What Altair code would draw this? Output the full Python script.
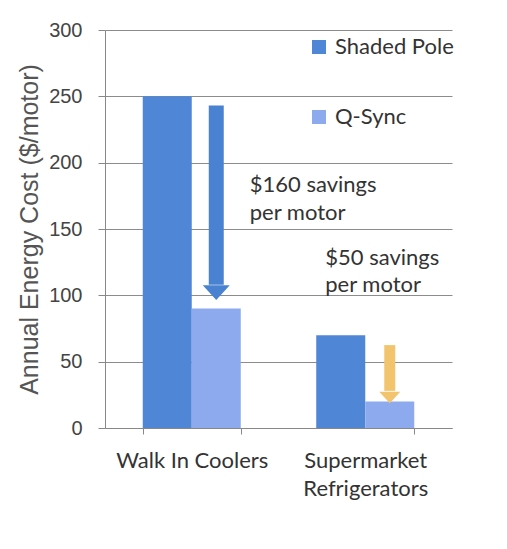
import altair as alt
import pandas as pd

categories = ["Walk In Coolers", "Supermarket Refrigerators"]
series = ["Shaded Pole", "Q-Sync"]
shaded_pole = [250, 70]
q_sync = [90, 20]

# arrows: category, shaft top, shaft bottom (head top), head centre, colour
arrow_cat = ["Walk In Coolers", "Supermarket Refrigerators"]
arrow_top = [243, 62.5]
arrow_head_top = [108, 28]
arrow_head_mid = [102, 23]
arrow_colors = ["#4a82d2", "#f2c46e"]

# annotations
note_cat = ["Walk In Coolers", "Walk In Coolers", "Supermarket Refrigerators", "Supermarket Refrigerators"]
note_text = ["$160 savings", "per motor", "$50 savings", "per motor"]
note_y = [183, 162, 128, 108]

bars = pd.DataFrame({
    "Category": categories * 2,
    "Series": [series[0]] * 2 + [series[1]] * 2,
    "Cost": shaded_pole + q_sync,
})
arrows = pd.DataFrame({
    "Category": arrow_cat,
    "Series": ["Q-Sync", "Q-Sync"],
    "top": arrow_top,
    "headtop": arrow_head_top,
    "headmid": arrow_head_mid,
    "col": arrow_colors,
})
notes = pd.DataFrame({"Category": note_cat, "text": note_text, "y": note_y})

xscale = alt.Scale(domain=categories, paddingInner=0.435, paddingOuter=0.2175)
yscale = alt.Scale(domain=[0, 300])

x = alt.X("Category:N", scale=xscale, sort=categories,
          axis=alt.Axis(title=None, labelAngle=0, labelFontSize=22, labelFont="Lato",
                        labelColor="#333333", labelPadding=16, tickBand="extent",
                        tickSize=6, tickColor="#888888", domainColor="#888888",
                        labelLineHeight=28,
                        labelExpr="datum.label == 'Supermarket Refrigerators' ? ['Supermarket', 'Refrigerators'] : datum.label"))
y = alt.Y("Cost:Q", scale=yscale,
          axis=alt.Axis(title="Annual Energy Cost ($/motor)", values=[0, 50, 100, 150, 200, 250, 300],
                        titleFont="Liberation Sans", titleFontSize=25, titleFontWeight="normal",
                        titleColor="#555555", titlePadding=6,
                        labelFont="Liberation Sans", labelFontSize=20, labelColor="#444444",
                        labelPadding=16, tickSize=7, tickColor="#888888", domainColor="#888888",
                        gridColor="#8c8c8c", gridWidth=1))

bar_layer = alt.Chart(bars).mark_bar().encode(
    x=x,
    xOffset=alt.XOffset("Series:N", sort=series, scale=alt.Scale(domain=series, paddingInner=0, paddingOuter=0)),
    y=y,
    color=alt.Color("Series:N", sort=series,
                    scale=alt.Scale(domain=series, range=["#4f86d6", "#8eaaee"]),
                    legend=alt.Legend(title=None, orient="none", legendX=203, legendY=6,
                                      symbolType="square", symbolSize=196, symbolStrokeWidth=0,
                                      labelFont="Lato", labelFontSize=22, labelColor="#333333",
                                      rowPadding=48, labelOffset=5, padding=0)),
)

shaft = alt.Chart(arrows).mark_rule(strokeCap="butt", xOffset=-5).encode(
    x=alt.X("Category:N", scale=xscale, sort=categories),
    xOffset=alt.XOffset("Series:N", sort=series),
    y="top:Q",
    y2="headtop:Q",
    color=alt.Color("col:N", scale=None),
    strokeWidth=alt.condition(alt.datum.Category == "Walk In Coolers", alt.value(15), alt.value(11)),
)

head = alt.Chart(arrows).mark_point(
    shape="M-1,-0.55 L1,-0.55 L0,0.55 Z", filled=True, opacity=1, strokeWidth=0, xOffset=-5
).encode(
    x=alt.X("Category:N", scale=xscale, sort=categories),
    xOffset=alt.XOffset("Series:N", sort=series),
    y="headmid:Q",
    color=alt.Color("col:N", scale=None),
    size=alt.condition(alt.datum.Category == "Walk In Coolers", alt.value(729), alt.value(441)),
)

notes1 = alt.Chart(notes).transform_filter(alt.datum.Category == "Walk In Coolers").mark_text(
    align="left", baseline="middle", font="Lato", fontSize=22, color="#333333", dx=58
).encode(
    x=alt.X("Category:N", scale=xscale, sort=categories),
    y="y:Q",
    text="text:N",
)
notes2 = alt.Chart(notes).transform_filter(alt.datum.Category != "Walk In Coolers").mark_text(
    align="left", baseline="middle", font="Lato", fontSize=22, color="#333333", dx=-40
).encode(
    x=alt.X("Category:N", scale=xscale, sort=categories),
    y="y:Q",
    text="text:N",
)

chart = alt.layer(bar_layer, shaft, head, notes1, notes2).properties(
    width=347, height=398,
    autosize=alt.AutoSizeParams(type="none"),
    padding={"left": 97, "top": 22, "right": 40, "bottom": 100},
).configure_view(stroke=None).configure_axisX(grid=False)

chart.save("out.html", embed_options={"renderer": "svg", "actions": False})
